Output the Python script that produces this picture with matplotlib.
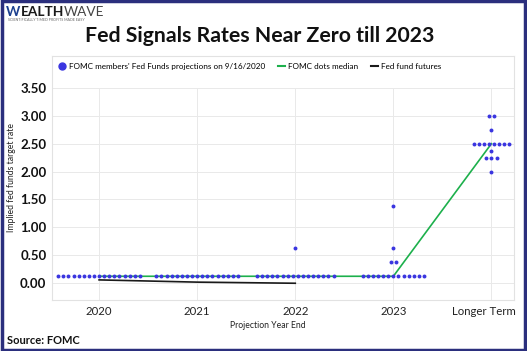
import numpy as np
import matplotlib.pyplot as plt
import matplotlib.transforms as mtransforms
from matplotlib.lines import Line2D
from matplotlib.patches import Rectangle

plt.rcParams['font.family'] = ['Lato', 'DejaVu Sans']

# projection years
categories = ['2020', '2021', '2022', '2023', 'Longer Term']

# dot plot: (rate, number of participants) per year
dots_2020 = [(0.125, 17)]
dots_2021 = [(0.125, 17)]
dots_2022 = [(0.125, 16), (0.625, 1)]
dots_2023 = [(0.125, 13), (0.375, 2), (0.625, 1), (1.375, 1)]
dots_longer = [(2.0, 1), (2.25, 3), (2.375, 1), (2.5, 8), (2.75, 1), (3.0, 2)]

median = [0.125, 0.125, 0.125, 0.125, 2.5]
futures = [0.06, 0.02, 0.0]

yticks = [0.0, 0.5, 1.0, 1.5, 2.0, 2.5, 3.0, 3.5]

dot_color = '#3a35e0'
green = '#1db04c'
grid_c = '#e9e9e9'

fig = plt.figure(figsize=(5.27, 3.51), dpi=100)
ax = fig.add_axes([52/527, 1-300/351, 462/527, 244/351])

spacing = 0.052
xs, ys = [], []
for i, grp in enumerate([dots_2020, dots_2021, dots_2022, dots_2023, dots_longer]):
    for rate, n in grp:
        for k in range(n):
            xs.append(i + (k - (n - 1) / 2) * spacing)
            ys.append(rate)

ymin, ymax = -0.30, 4.07
# grid stops at the top tick
ax.vlines(range(len(categories)), ymin, yticks[-1], color=grid_c, lw=0.7, zorder=0)
ax.hlines(yticks, -0.48, 4.23, color=grid_c, lw=0.7, zorder=0)

ax.plot(range(len(median)), median, color=green, lw=1.2, zorder=2)
ax.plot(range(len(futures)), futures, color='#1a1a1a', lw=1.2, zorder=2)
ax.scatter(xs, ys, s=8, color=dot_color, zorder=3, linewidths=0)

ax.set_xlim(-0.48, 4.23)
ax.set_ylim(ymin, ymax)
ax.set_xticks(range(len(categories)))
ax.set_xticklabels(categories, fontsize=8.2, color='#222222')
ax.set_yticks(yticks)
ax.set_yticklabels(['%.2f' % v for v in yticks], fontsize=9.5,
                   fontweight='bold', color='#111111')
ax.tick_params(length=0, pad=4)
for sp in ax.spines.values():
    sp.set_color('#e2e2e2')
    sp.set_linewidth(0.8)
# last label sits a bit left so it stays inside the frame
lab = ax.get_xticklabels()[-1]
lab.set_transform(lab.get_transform() +
                  mtransforms.ScaledTranslation(-8/100, 0, fig.dpi_scale_trans))

handles = [
    Line2D([], [], marker='o', ls='', color=dot_color, markersize=5),
    Line2D([], [], color=green, lw=1.5),
    Line2D([], [], color='#1a1a1a', lw=1.5),
]
labels = ["FOMC members' Fed Funds projections on 9/16/2020",
          'FOMC dots median', 'Fed fund futures']
ax.legend(handles, labels, loc='upper left', bbox_to_anchor=(0.0, 1.0),
          ncol=3, frameon=False, fontsize=5.9, handlelength=0.9,
          handletextpad=0.4, columnspacing=1.5, borderaxespad=0.4)

fig.text(268/527, 1-325/351, 'Projection Year End', ha='center', va='center',
         fontsize=6.2, color='#222222')
fig.text(12/527, 1-177/351, 'Implied fed funds target rate', rotation=90,
         ha='center', va='center', fontsize=6.2, color='#222222')

fig.text(260/527, 1-36/351, 'Fed Signals Rates Near Zero till 2023',
         ha='center', va='center', fontsize=15.3, fontweight='bold', color='#111111')
fig.text(7/527, 1-340/351, 'Source: FOMC', ha='left', va='center',
         fontsize=8, fontweight='bold', color='#111111')

# logo
t = fig.text(6/527, 1-12/351, 'W', ha='left', va='center', fontsize=9.8,
             fontweight='bold', color='#1b3f8f')
fig.canvas.draw()
bb = t.get_window_extent()
t2 = fig.text(bb.x1/527, 1-12/351, 'EALTH', ha='left', va='center',
              fontsize=9.8, fontweight='bold', color='#1a1a1a')
fig.canvas.draw()
bb2 = t2.get_window_extent()
fig.text(bb2.x1/527, 1-12/351, 'WAVE', ha='left', va='center',
         fontsize=9.8, color='#444444')
fig.text(8/527, 1-20/351, 'SCIENTIFICALLY TIMED PROFITS MADE EASY', ha='left',
         va='center', fontsize=2.6, color='#666666')

# outer frame
fig.patches.append(Rectangle((0.003, 0.004), 0.994, 0.992, transform=fig.transFigure,
                             fill=False, edgecolor='#2b2f7d', lw=2.5))

fig.savefig('out.png', dpi=100)
